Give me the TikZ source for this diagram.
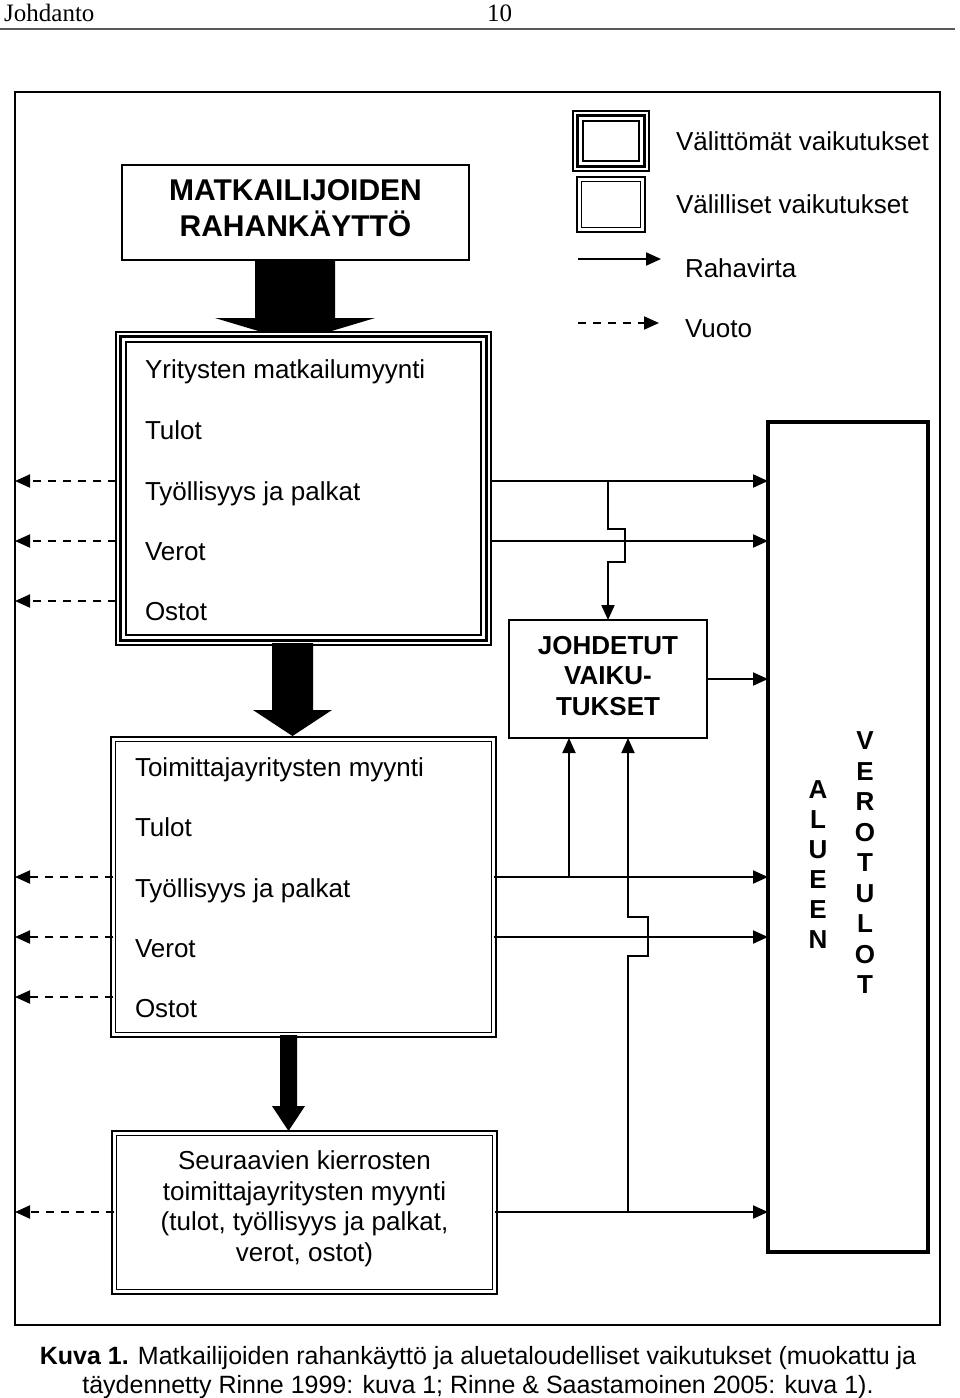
\documentclass[tikz,border=0pt]{standalone}
\usepackage{fontspec}
\setmainfont{Liberation Sans}
\newfontfamily\hdrfont{Liberation Serif}
\usetikzlibrary{arrows.meta,calc}
\begin{document}
\begin{tikzpicture}[x=1pt,y=-1pt,
  txt/.style={font=\fontsize{26}{30.5}\selectfont, inner sep=0pt, outer sep=0pt},
  btxt/.style={font=\fontsize{26}{30.3}\selectfont\bfseries, inner sep=0pt, outer sep=0pt, align=center},
  plainbox/.style={draw, line width=2pt, inner sep=0pt, outer sep=0pt, fill=white},
  directbox/.style={draw, line width=1.5pt, inner sep=0pt, outer sep=0pt, fill=white},
  indirectbox/.style={draw, line width=1.4pt, double, double distance=3.2pt, inner sep=0pt, outer sep=0pt},
  flow/.style={line width=2pt, -{Triangle[length=15pt,width=13pt]}},
  leak/.style={flow, dash pattern=on 8pt off 7pt},
  blockarrow/.style={fill=black}
]
\useasboundingbox (0,0) rectangle (960,1398);

% header
\node[font=\hdrfont\fontsize{25}{30}\selectfont, anchor=base west, inner sep=0pt] (hd) at (4,21) {Johdanto};
\node[font=\hdrfont\fontsize{25}{30}\selectfont, anchor=base west, inner sep=0pt] (pg) at (487,21) {10};
\draw[line width=2pt, black!65] (0,29) -- (955,29);

% outer frame
\node[draw, line width=2pt, minimum width=925pt, minimum height=1233pt, inner sep=0pt, outer sep=0pt] (fr) at (477.5,708.5) {};

% row coordinates
\coordinate (r1) at (0,481);
\coordinate (r2) at (0,541);
\coordinate (r3) at (0,601);
\coordinate (s1) at (0,877);
\coordinate (s2) at (0,937);
\coordinate (s3) at (0,997);
\coordinate (s4) at (0,1212);

% block arrow 1
\fill[blockarrow] (255,258) -- (335,258) -- (335,318) -- (375,318) -- (295,342) -- (215,318) -- (255,318) -- cycle;

% top box
\node[plainbox, minimum width=347pt, minimum height=95pt, align=center,
      font=\fontsize{30}{36}\selectfont\bfseries, text depth=9pt] (t) at (295.5,212.5) {MATKAILIJOIDEN\\RAHANKÄYTTÖ};

% box 1 (direct effects)
\node[directbox, minimum width=375pt, minimum height=313pt] (b1) at (303.5,488.5) {};

% legend boxes
\node[directbox, minimum width=76pt, minimum height=60pt] (l1) at (611,141) {};
\node[indirectbox, minimum width=63.4pt, minimum height=50.4pt] (l2) at (611,204.5) {};

\foreach \n in {b1,l1} {
  \draw[line width=3.5pt] ([xshift=4.5pt,yshift=-4.5pt]\n.north west) rectangle ([xshift=-4.5pt,yshift=4.5pt]\n.south east);
  \draw[line width=1.5pt] ([xshift=10pt,yshift=-10pt]\n.north west) rectangle ([xshift=-10pt,yshift=10pt]\n.south east);
}

% block arrow 2
\fill[blockarrow] (272,643) -- (313,643) -- (313,710) -- (332,710) -- (292.5,736) -- (253,710) -- (272,710) -- cycle;

% box 2 (indirect)
\node[indirectbox, fill=white, minimum width=380.4pt, minimum height=295.4pt] (b2) at (303.5,887) {};

% block arrow 3
\fill[blockarrow] (280,1035) -- (297,1035) -- (297,1106) -- (305,1106) -- (288.5,1131) -- (272,1106) -- (280,1106) -- cycle;

% box 3
\node[indirectbox, fill=white, minimum width=380.4pt, minimum height=158.4pt] (b3) at (304.5,1212.5) {};
\node[txt, align=center, anchor=north] (b3t) at (304.5,1151) {Seuraavien kierrosten\\toimittajayritysten myynti\\(tulot, työllisyys ja palkat,\\verot, ostot)};

% derived effects box
\node[plainbox, minimum width=198pt, minimum height=118pt, align=center,
      font=\fontsize{26}{30.5}\selectfont\bfseries, text depth=7pt] (jv) at (608,679) {JOHDETUT\\VAIKU-\\TUKSET};

% regional tax revenue box
\node[draw, line width=4pt, minimum width=160pt, minimum height=830pt, inner sep=0pt, outer sep=0pt] (rb) at (848,837) {};
\node[btxt, font=\fontsize{26}{30}\selectfont\bfseries] (alueen) at (818,865) {A\\L\\U\\E\\E\\N};
\node[btxt, font=\fontsize{26}{30.5}\selectfont\bfseries] (verotulot) at (865,863) {V\\E\\R\\O\\T\\U\\L\\O\\T};

% box 1 texts
\node[txt, anchor=base west] (b1a) at (145,378) {Yritysten matkailumyynti};
\node[txt, anchor=base west] (b1b) at (145,439) {Tulot};
\node[txt, anchor=base west] (b1c) at (145,500) {Työllisyys ja palkat};
\node[txt, anchor=base west] (b1d) at (145,560) {Verot};
\node[txt, anchor=base west] (b1e) at (145,620) {Ostot};

% box 2 texts
\node[txt, anchor=base west] (b2a) at (135,776) {Toimittajayritysten myynti};
\node[txt, anchor=base west] (b2b) at (135,836) {Tulot};
\node[txt, anchor=base west] (b2c) at (135,897) {Työllisyys ja palkat};
\node[txt, anchor=base west] (b2d) at (135,957) {Verot};
\node[txt, anchor=base west] (b2e) at (135,1017) {Ostot};

% legend texts
\node[txt, anchor=base west] (lt1) at (676,150.5) {Välittömät vaikutukset};
\node[txt, anchor=base west] (lt2) at (676,213.5) {Välilliset vaikutukset};
\node[txt, anchor=base west] (lt3) at (685,277) {Rahavirta};
\node[txt, anchor=base west] (lt4) at (685,337) {Vuoto};
\coordinate (la1) at (578,259);
\coordinate (la2) at (661,259);
\coordinate (la3) at (578,323);
\coordinate (la4) at (659,323);
\draw[flow] (la1) -- (la2);
\draw[leak] (la3) -- (la4);

% leakage arrows
\foreach \r in {r1,r2,r3} { \draw[leak] (b1.west |- \r) -- (fr.west |- \r); }
\foreach \r in {s1,s2,s3} { \draw[leak] (b2.west |- \r) -- (fr.west |- \r); }
\draw[leak] (b3.west |- s4) -- (fr.west |- s4);

% money flows to the right box
\draw[flow] (b1.east |- r1) -- (rb.west |- r1);
\draw[flow] (b1.east |- r2) -- (rb.west |- r2);
\draw[flow] (jv.east) -- (rb.west |- jv.east);
\draw[flow] (b2.east |- s1) -- (rb.west |- s1);
\draw[flow] (b2.east |- s2) -- (rb.west |- s2);
\draw[flow] (b3.east |- s4) -- (rb.west |- s4);

% flows into derived effects
\coordinate (j0) at (jv.north |- r1);
\draw[flow] (j0) -- ++(0,48) -- ++(17,0) -- ++(0,33) -- ++(-17,0) -- (jv.north);
\coordinate (jv1) at ($(jv.south)+(-39,0)$);
\coordinate (jv2) at ($(jv.south)+(20,0)$);
\draw[flow] (jv1 |- s1) -- (jv1);
\draw[flow] (jv2 |- s4) -- ($(jv2 |- s2)+(0,19)$) -- ++(20,0) -- ++(0,-39) -- ++(-20,0) -- (jv2);

% caption
\node[font=\fontsize{25}{29}\selectfont, align=center, anchor=north, inner sep=0pt] (cap) at (478,1346)
  {{\bfseries Kuva 1.} Matkailijoiden rahankäyttö ja aluetaloudelliset vaikutukset (muokattu ja\\täydennetty Rinne 1999: kuva 1; Rinne \& Saastamoinen 2005: kuva 1).};
\end{tikzpicture}
\end{document}
